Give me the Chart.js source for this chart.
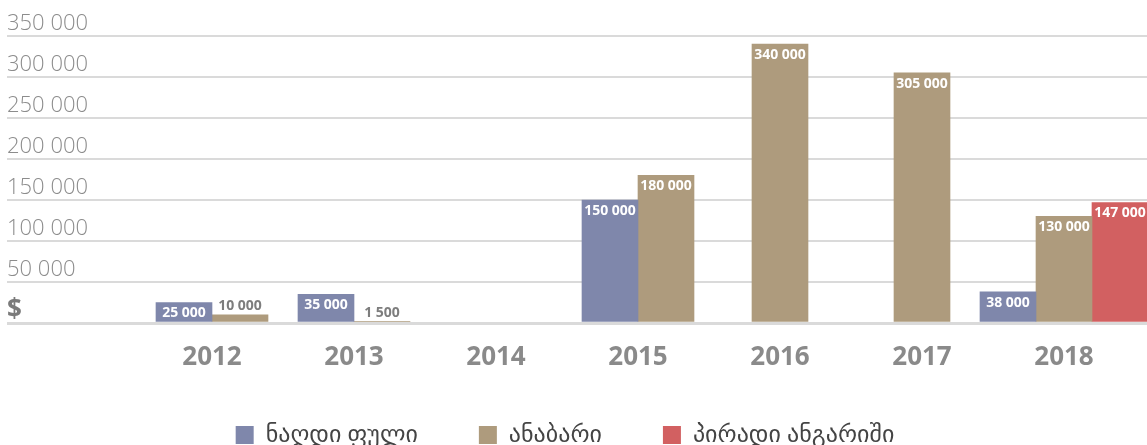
<!DOCTYPE html>
<html>
<head>
<meta charset="utf-8">
<script src="https://cdn.jsdelivr.net/npm/chart.js@4.4.0/dist/chart.umd.min.js"></script>
<style>
  html, body { margin: 0; padding: 0; background: #fff; overflow: hidden; }
  #wrap { width: 1147px; height: 445px; }
</style>
</head>
<body>
<div id="wrap"><canvas id="chart"></canvas></div>
<script>
// Dados
const years = ["2012", "2013", "2014", "2015", "2016", "2017", "2018"];
const cash = [25000, 35000, null, 150000, null, null, 38000];
const deposit = [10000, 1500, null, 180000, 340000, 305000, 130000];
const personal = [null, null, null, null, null, null, 147000];
const yMax = 350000;
const yStep = 50000;

const fmt = (v) => String(v).replace(/\B(?=(\d{3})+(?!\d))/g, " ");
const isZero = (c) => !!(c && c.tick && c.tick.value === 0);

const gridColor = "#dadada";
const gridWidth = (c) => (isZero(c) ? 3 : 2);

// Rótulos dos valores nas barras
const valueLabels = {
  id: "valueLabels",
  afterDatasetsDraw(chart) {
    const ctx = chart.ctx;
    ctx.save();
    ctx.font = 'bold 14px "Open Sans"';
    ctx.textAlign = "center";
    ctx.textBaseline = "middle";
    chart.data.datasets.forEach((ds, i) => {
      const meta = chart.getDatasetMeta(i);
      meta.data.forEach((bar, j) => {
        const v = ds.data[j];
        if (v == null) return;
        const h = bar.base - bar.y;
        if (h < 18) {
          // barra curta: rótulo acima
          ctx.fillStyle = "#7d7d7d";
          ctx.fillText(fmt(v), bar.x, bar.y - 9);
        } else {
          ctx.fillStyle = "#ffffff";
          ctx.fillText(fmt(v), bar.x, bar.y + 11);
        }
      });
    });
    ctx.restore();
  },
};

// Ajusta a posição da legenda
const legendShift = {
  id: "legendShift",
  afterLayout(chart) {
    const lg = chart.legend;
    lg.left -= 12;
    lg.right -= 12;
    lg.top -= 6;
    lg.bottom -= 6;
  },
};

const ctx = document.getElementById("chart").getContext("2d");
const chart = new Chart(ctx, {
  type: "bar",
  data: {
    labels: years,
    datasets: [
      { label: "ნაღდი ფული", data: cash, backgroundColor: "#7f87ab" },
      { label: "ანაბარი", data: deposit, backgroundColor: "#ae9b7d" },
      { label: "პირადი ანგარიში", data: personal, backgroundColor: "#d26061" },
    ],
  },
  options: {
    responsive: true,
    maintainAspectRatio: false,
    animation: false,
    layout: { padding: { top: 36, left: 7, right: 0, bottom: -18 } },
    datasets: { bar: { barThickness: 56, skipNull: true, clip: false } },
    plugins: {
      tooltip: { enabled: false },
      legend: {
        position: "bottom",
        labels: {
          boxWidth: 18,
          boxHeight: 18,
          padding: 61,
          color: "#444444",
          font: { size: 24, family: '"Open Sans", "DejaVu Sans"' },
        },
      },
    },
    scales: {
      x: {
        grid: { display: false, drawTicks: false },
        border: { display: false },
        ticks: {
          padding: 19,
          color: "#8a8a8a",
          font: { size: 26, weight: "bold", family: '"Open Sans"' },
        },
        afterFit: (s) => { s.height = 45; },
      },
      y: {
        min: 0,
        max: yMax,
        border: { display: false },
        grid: { color: gridColor, lineWidth: gridWidth, tickLength: 134 },
        ticks: {
          stepSize: yStep,
          crossAlign: "far",
          padding: 0,
          labelOffset: -12,
          callback: (v) => (v === 0 ? "$" : fmt(v)),
          color: (c) => (isZero(c) ? "#7a7a7a" : "#8c8c8c"),
          font: (c) =>
            isZero(c)
              ? { size: 26, weight: "bold", family: '"Open Sans"' }
              : { size: 22, weight: "300", family: '"Open Sans"' },
        },
        afterFit: (s) => { s.width = 134; },
      },
      y2: {
        position: "right",
        min: 0,
        max: yMax,
        border: { display: false },
        grid: { color: gridColor, lineWidth: gridWidth, tickLength: 12, drawOnChartArea: false },
        ticks: { stepSize: yStep, display: false },
        afterFit: (s) => { s.width = 12; },
      },
    },
  },
  plugins: [valueLabels, legendShift],
});
</script>
</body>
</html>
